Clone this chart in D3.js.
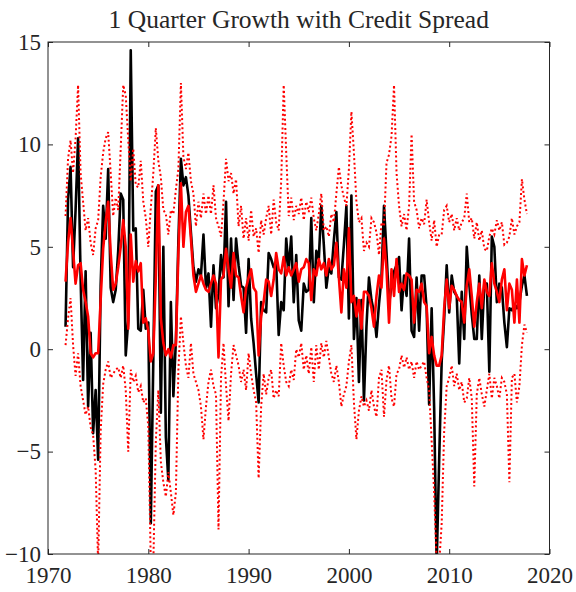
<!DOCTYPE html>
<html>
<head>
<meta charset="utf-8">
<script src="https://cdn.jsdelivr.net/npm/d3@7"></script>
<style>
  html, body { margin: 0; padding: 0; background: #fff; }
  svg { display: block; }
  text { font-family: "Liberation Serif", "Times New Roman", serif; fill: #262626; }
</style>
</head>
<body>
<div id="chart"></div>
<script>
// ---------------- data ----------------
const chartTitle = "1 Quarter Growth with Credit Spread";
const firstQuarter = 1971.75;           // 1971Q4
const xTicks = [1970, 1980, 1990, 2000, 2010, 2020];
const yTicks = [-10, -5, 0, 5, 10, 15];

// realised growth (black solid)
const growth = [
  1.1,
  7.3, 8.9, 4.0, 6.8,
  10.3, 3.5, -1.5, 3.8,
  -2.8, 0.8, -4.1, -2.0,
  -5.4, 3.1, 7.0, 5.4,
  8.8, 3.0, 2.3, 2.9,
  4.8, 7.6, 7.3, -0.3,
  1.4, 14.6, 5.8, 5.9,
  1.0, 0.9, 2.9, 1.0,
  1.3, -8.5, -0.5, 7.7,
  8.0, -3.1, 5.0, -4.3,
  -6.4, 2.3, -2.3, 0.4,
  5.3, 9.3, 8.0, 8.4,
  7.5, 5.7, 4.0, 3.3,
  3.9, 3.6, 5.6, 3.0,
  3.7, 1.1, 4.1, 2.0,
  2.7, 4.6, 3.5, 7.2,
  2.1, 5.4, 2.4, 5.4,
  4.1, 3.1, 3.0, 0.8,
  4.4, 1.5, 0.3, -1.2,
  -2.6, 2.3, 1.9, 1.8,
  4.7, 4.4, 4.0, 4.2,
  0.7, 2.3, 1.9, 5.4,
  3.9, 5.5, 2.3, 4.6,
  1.4, 0.9, 3.2, 2.8,
  2.9, 6.4, 2.3, 4.8,
  4.4, 7.0, 5.1, 3.0,
  4.0, 3.7, 5.3, 6.7,
  3.5, 3.4, 5.1, 7.0,
  1.5, 7.5, 0.5, 2.5,
  -1.6, 2.4, -2.5, 1.1,
  3.5, 2.4, 1.8, 0.6,
  2.2, 3.5, 7.0, 4.7,
  2.2, 3.1, 3.8, 4.1,
  4.5, 1.9, 3.6, 2.6,
  5.4, 0.9, 0.6, 3.5,
  0.9, 3.6, 3.6, 2.0,
  -2.7, 2.0, -2.9, -10.5,
  -5.4, -0.6, 1.5, 4.1,
  1.8, 3.6, 2.8, 2.6,
  -0.7, 2.8, 0.5, 5.0,
  3.2, 1.7, 0.5, 0.5,
  3.6, 0.5, 3.2, 3.2,
  -1.1, 5.5, 5.0, 2.3,
  3.2, 3.0, 1.3, 0.1,
  2.0, 1.9, 2.2, 2.0,
  2.3, 3.1, 3.6, 2.6
];

// median forecast (red solid)
const median = [
  3.3,
  5.2, 6.4, 4.8, 3.2,
  4.1, 4.2, 2.9, 2.3,
  1.6, -0.2, -0.4, -0.2,
  -0.2, 2.4, 4.9, 6.2,
  7.2, 4.7, 2.9, 3.2,
  4.0, 5.0, 6.3, 5.0,
  1.0, 5.6, 3.3, 4.3,
  3.8, 4.2, 1.3, 1.5,
  0.9, -0.6, -0.2, 3.5,
  8.0, 1.5, 0.3, -0.3,
  0.0, -0.4, 0.2, 0.2,
  4.7, 8.1, 5.0, 6.7,
  7.0, 5.4, 3.6, 2.8,
  3.2, 3.6, 3.2, 2.9,
  2.8, 3.2, 3.6, 3.2,
  -0.4, 3.4, 3.6, 4.9,
  3.9, 3.0, 4.7, 3.6,
  3.5, 2.6, 1.8, 3.0,
  3.5, 3.9, 3.0, 2.8,
  -0.3, 1.6, 2.3, 3.4,
  3.3, 2.6, 3.4, 4.7,
  3.9, 3.7, 4.5, 3.6,
  4.0, 3.6, 3.9, 4.2,
  3.3, 3.9, 4.0, 4.4,
  4.2, 2.4, 3.9, 3.6,
  4.4, 3.9, 4.2, 3.6,
  4.4, 3.9, 4.1, 5.2,
  3.5, 1.8, 3.9, 3.0,
  5.9, 2.3, 2.6, 1.6,
  2.4, 1.0, 2.8, 2.8,
  2.6, 2.0, 1.1, 2.6,
  3.6, 3.0, 5.4, 3.9,
  1.3, 3.9, 2.6, 4.4,
  2.8, 3.2, 2.9, 3.7,
  3.6, 3.4, 1.3, 2.9,
  2.8, 3.2, 2.3, 2.1,
  -0.2, 0.6, -0.3, -0.8,
  -0.8, -0.3, 2.0, 3.4,
  2.0, 3.1, 2.9, 2.6,
  2.4, 2.3, 1.3, 3.1,
  3.9, 2.6, 1.1, 2.3,
  3.2, 2.0, 3.4, 2.8,
  2.6, 4.2, 3.2, 2.8,
  2.3, 3.4, 3.9, 1.9,
  3.2, 2.9, 1.3, 3.4,
  1.3, 4.4, 3.6, 4.1
];

// upper quantile (red dotted)
const upper = [
  6.5,
  9.3, 10.2, 8.6, 10.3,
  12.9, 8.6, 7.2, 5.8,
  6.4, 5.2, 4.6, 5.9,
  6.3, 8.4, 9.6, 10.3,
  10.6, 8.6, 6.5, 7.4,
  6.8, 9.8, 12.9, 12.4,
  10.2, 8.2, 9.8, 8.0,
  7.9, 9.2, 7.2, 6.4,
  5.0, 6.9, 8.6, 10.8,
  9.2, 8.4, 6.8, 6.6,
  5.6, 6.8, 6.6, 7.8,
  8.8, 13.0, 9.4, 8.8,
  9.6, 8.2, 7.6, 6.0,
  7.2, 6.4, 7.6, 6.6,
  7.5, 6.6, 8.0, 6.4,
  6.0, 5.5, 7.2, 9.3,
  8.2, 8.6, 7.6, 8.3,
  6.0, 7.0, 5.4, 6.4,
  5.3, 6.8, 5.5, 5.9,
  4.7, 6.3, 5.6, 6.4,
  7.0, 5.6, 7.3, 6.2,
  5.8, 8.2, 12.9, 9.6,
  6.5, 7.4, 6.3, 7.0,
  6.6, 7.4, 6.3, 7.2,
  6.7, 7.4, 6.4, 5.8,
  6.6, 7.6, 5.8, 6.0,
  5.5, 6.6, 6.2, 7.6,
  8.9, 8.0, 7.4, 7.0,
  8.8, 11.6, 9.6, 7.2,
  6.2, 6.4, 4.8, 5.2,
  5.0, 6.4, 6.2, 5.7,
  4.6, 6.2, 6.0, 9.1,
  9.5, 10.4, 12.9, 8.6,
  7.0, 6.0, 6.6, 5.8,
  7.0, 10.5, 7.2, 6.8,
  5.9, 6.4, 6.1, 7.3,
  6.2, 5.3, 6.3, 5.0,
  5.6, 5.6, 6.8, 7.0,
  6.2, 6.6, 5.8, 6.4,
  5.8, 6.2, 6.4, 7.6,
  6.2, 6.4, 5.4, 6.2,
  5.3, 5.8, 4.9, 4.8,
  5.5, 5.9, 5.6, 6.3,
  5.8, 6.2, 5.1, 5.2,
  5.5, 6.4, 5.6, 6.0,
  6.2, 8.3, 7.3, 6.6
];

// lower quantile (red dotted)
const lower = [
  0.2,
  1.5, 2.5, 0.2, -1.3,
  -0.2, -1.8, -2.5, -3.2,
  -2.8, -3.8, -4.2, -5.9,
  -10.5, -4.0, -1.7, -1.0,
  -0.6, -1.4, -1.2, -1.0,
  -0.9, -1.4, -0.8, -2.0,
  -5.0, -1.0, -1.6, -1.3,
  -2.1, -1.8, -2.6, -2.4,
  -3.8, -10.5, -10.5, -4.5,
  -2.0, -5.5, -6.5, -7.2,
  -6.0, -7.0, -8.1, -7.0,
  -1.0, 1.6, 0.3, -0.8,
  -1.4, 0.3, -1.2, -1.6,
  -2.0, -2.8, -4.4, -2.8,
  -1.6, -1.0, -1.8, -2.2,
  -8.8, -1.4, 0.3, -1.8,
  -3.5, -1.2, 0.2, -0.3,
  -0.8, -1.6, -1.0, -2.0,
  -0.2, -1.2, -2.0, -2.6,
  -6.3, -2.8, -1.2, -2.2,
  -1.4, -1.0, -2.4, -2.0,
  -2.3, 0.3, -0.8, -1.6,
  -1.8, -1.0, -1.5, 0.0,
  -0.4, 0.3, -1.0, -0.3,
  -1.2, 0.1, -1.6, 0.2,
  -1.0, 0.3, -0.4, 0.4,
  -0.4, -1.2, -1.6, -0.8,
  -1.6, -2.8, -2.2, -1.8,
  -0.6, 0.2, -2.6, -4.4,
  -3.0, -2.3, -2.8, -2.5,
  -3.0, -2.0, -2.8, -3.3,
  -1.4, -1.0, -3.3, -1.5,
  -0.8, -2.4, -2.8, -1.2,
  -1.0, -0.3, -0.9, -0.4,
  -1.0, -0.6, -1.4, -0.6,
  -1.0, -0.8, -0.6, -1.4,
  -2.0, -4.5, -7.0, -10.5,
  -10.5, -8.5, -4.0, -1.8,
  -1.4, -0.8, -1.8, -1.2,
  -2.0, -1.6, -2.6, -2.4,
  -1.4, -2.4, -6.7, -2.2,
  -1.4, -2.2, -2.8, -2.0,
  -1.2, -2.4, -1.4, -1.8,
  -2.4, -1.4, -1.6, -2.2,
  -6.5, -1.4, -1.2, -2.6,
  -1.8, 0.2, 1.2, 0.8
];

// ---------------- chart ----------------
const W = 576, H = 592;
const L = 48, R = 549.5, T = 42, B = 554;
const dates = growth.map((_, i) => firstQuarter + i / 4);

const x = d3.scaleLinear().domain([1970, 2020]).range([L, R]);
const y = d3.scaleLinear().domain([-10, 15]).range([B, T]);

const svg = d3.select("#chart").append("svg")
  .attr("width", W).attr("height", H);

svg.append("defs").append("clipPath").attr("id", "plotclip")
  .append("rect").attr("x", L).attr("y", T).attr("width", R - L).attr("height", B - T);

svg.append("rect").attr("x", L).attr("y", T).attr("width", R - L).attr("height", B - T)
  .attr("fill", "#fff");

const line = d3.line().x((d, i) => x(dates[i])).y(d => y(d));
const plot = svg.append("g").attr("clip-path", "url(#plotclip)");

plot.append("path").datum(growth).attr("d", line)
  .attr("fill", "none").attr("stroke", "#000").attr("stroke-width", 2.6)
  .attr("stroke-linejoin", "round");

[upper, lower].forEach(s => {
  plot.append("path").datum(s).attr("d", line)
    .attr("fill", "none").attr("stroke", "#ff0000").attr("stroke-width", 2)
    .attr("stroke-dasharray", "2,2.6");
});

plot.append("path").datum(median).attr("d", line)
  .attr("fill", "none").attr("stroke", "#ff0000").attr("stroke-width", 2.6)
  .attr("stroke-linejoin", "round");

// axes (box with inward ticks)
const axisColor = "#262626";
const fontSize = 23;
function styleAxis(g) {
  g.select(".domain").remove();
  g.selectAll(".tick line").attr("stroke", axisColor).attr("stroke-width", 1);
  g.selectAll(".tick text").attr("font-size", fontSize)
    .attr("font-family", "Liberation Serif, Times New Roman, serif").attr("fill", axisColor);
}
svg.append("g").attr("transform", `translate(0,${B})`)
  .call(d3.axisBottom(x).tickValues(xTicks).tickFormat(d3.format("d")).tickSizeInner(-5).tickSizeOuter(0).tickPadding(13))
  .call(styleAxis);
svg.append("g").attr("transform", `translate(0,${T})`)
  .call(d3.axisTop(x).tickValues(xTicks).tickFormat("").tickSizeInner(-5).tickSizeOuter(0))
  .call(styleAxis);
svg.append("g").attr("transform", `translate(${L},0)`)
  .call(d3.axisLeft(y).tickValues(yTicks).tickSizeInner(-5).tickSizeOuter(0).tickPadding(7))
  .call(styleAxis);
svg.append("g").attr("transform", `translate(${R},0)`)
  .call(d3.axisRight(y).tickValues(yTicks).tickFormat("").tickSizeInner(-5).tickSizeOuter(0))
  .call(styleAxis);

svg.append("rect").attr("x", L).attr("y", T).attr("width", R - L).attr("height", B - T)
  .attr("fill", "none").attr("stroke", axisColor).attr("stroke-width", 1);

svg.append("text").attr("x", (L + R) / 2).attr("y", 28)
  .attr("text-anchor", "middle").attr("font-size", 25.5).attr("fill", "#000")
  .text(chartTitle);
</script>
</body>
</html>
